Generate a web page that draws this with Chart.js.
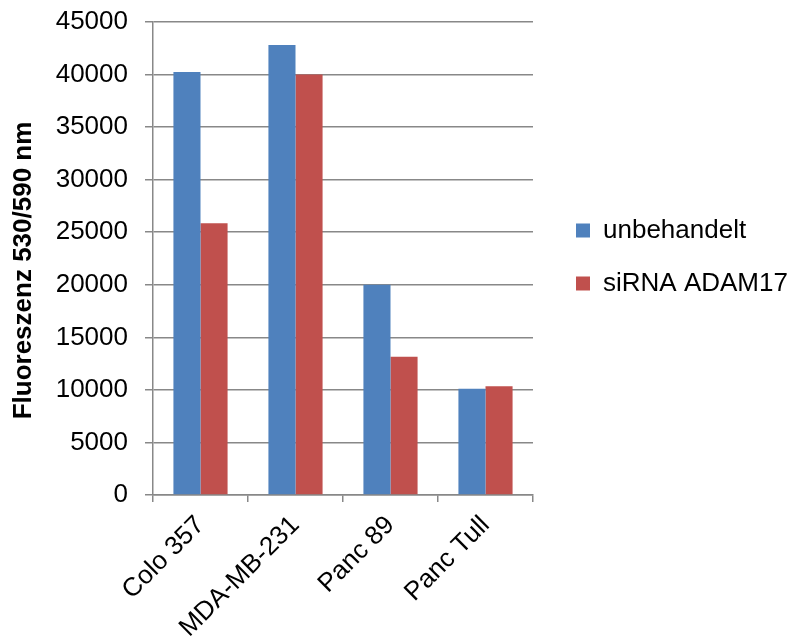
<!DOCTYPE html>
<html>
<head>
<meta charset="utf-8">
<script src="https://cdn.jsdelivr.net/npm/chart.js@4"></script>
<style>
html,body{margin:0;padding:0;background:#fff;}
#wrap{width:787px;height:642px;position:relative;}
</style>
</head>
<body>
<div id="wrap"><canvas id="c" width="787" height="642"></canvas></div>
<script>
const categories = ["Colo 357", "MDA-MB-231", "Panc 89", "Panc Tull"];
const unbehandelt = [40250, 42800, 20000, 10100];
const siRNA = [25850, 40000, 13150, 10350];
const seriesNames = ["unbehandelt", "siRNA ADAM17"];
const yTicks = [0, 5000, 10000, 15000, 20000, 25000, 30000, 35000, 40000, 45000];
const yTitle = "Fluoreszenz 530/590 nm";

const FONT = "'Liberation Sans', Arial, sans-serif";

const legendPlugin = {
  id: 'legendFix',
  beforeLayout(chart) {
    const lg = chart.legend;
    if (lg && !lg._patched) {
      const orig = lg.fit;
      lg.fit = function() { orig.call(this); this.width = 254; };
      lg._patched = true;
    }
    const ys = chart.scales && chart.scales.y;
    if (ys && !ys._titlePatched) {
      const origTitle = ys.drawTitle;
      ys.drawTitle = function() {
        const ctx = this.ctx;
        ctx.save();
        ctx.translate(0, 12);
        origTitle.apply(this, arguments);
        ctx.restore();
      };
      ys._titlePatched = true;
    }
  },
  afterLayout(chart) {
    const lg = chart.legend;
    if (lg) {
      lg.left = lg.left + 16;
      lg.top = lg.top - 75;
      lg.bottom = lg.bottom - 75;
    }
  }
};

new Chart(document.getElementById('c'), {
  type: 'bar',
  data: {
    labels: categories,
    datasets: [
      { label: seriesNames[0], data: unbehandelt, backgroundColor: '#4F81BD', categoryPercentage: 0.57, barPercentage: 1.0 },
      { label: seriesNames[1], data: siRNA, backgroundColor: '#C0504D', categoryPercentage: 0.57, barPercentage: 1.0 }
    ]
  },
  plugins: [legendPlugin],
  options: {
    responsive: false,
    animation: false,
    layout: { padding: { top: 22, left: 0, right: 0, bottom: 0 } },
    plugins: {
      tooltip: { enabled: false },
      legend: {
        position: 'right',
        labels: {
          boxWidth: 14, boxHeight: 14, padding: 27,
          color: '#000',
          font: { family: FONT, size: 26 }
        }
      }
    },
    scales: {
      x: {
        offset: true,
        grid: { display: true, drawOnChartArea: false, drawTicks: true, offset: true, tickLength: 7, color: '#888', lineWidth: 1.5 },
        border: { display: true, color: '#888', width: 1.5 },
        ticks: { maxRotation: 45, minRotation: 45, color: '#000', font: { family: FONT, size: 26 }, padding: 8 },
        afterFit(scale) { scale.height = 147; scale.paddingLeft = 0; scale.paddingRight = 0; }
      },
      y: {
        min: 0, max: 45000,
        afterBuildTicks(scale) { scale.ticks = yTicks.map(v => ({ value: v })); },
        grid: { color: '#888', lineWidth: 1.5, tickLength: 8, drawTicks: true },
        border: { display: true, color: '#888', width: 1.5 },
        ticks: { color: '#000', font: { family: FONT, size: 26 }, padding: 17, callback: v => String(v) },
        title: { display: true, text: yTitle, color: '#000', font: { family: FONT, size: 26, weight: 'bold' }, padding: { top: 8, bottom: 0 } },
        afterFit(scale) { scale.width = 153; scale.paddingTop = 0; scale.paddingBottom = 0; }
      }
    }
  }
});
</script>
</body>
</html>
